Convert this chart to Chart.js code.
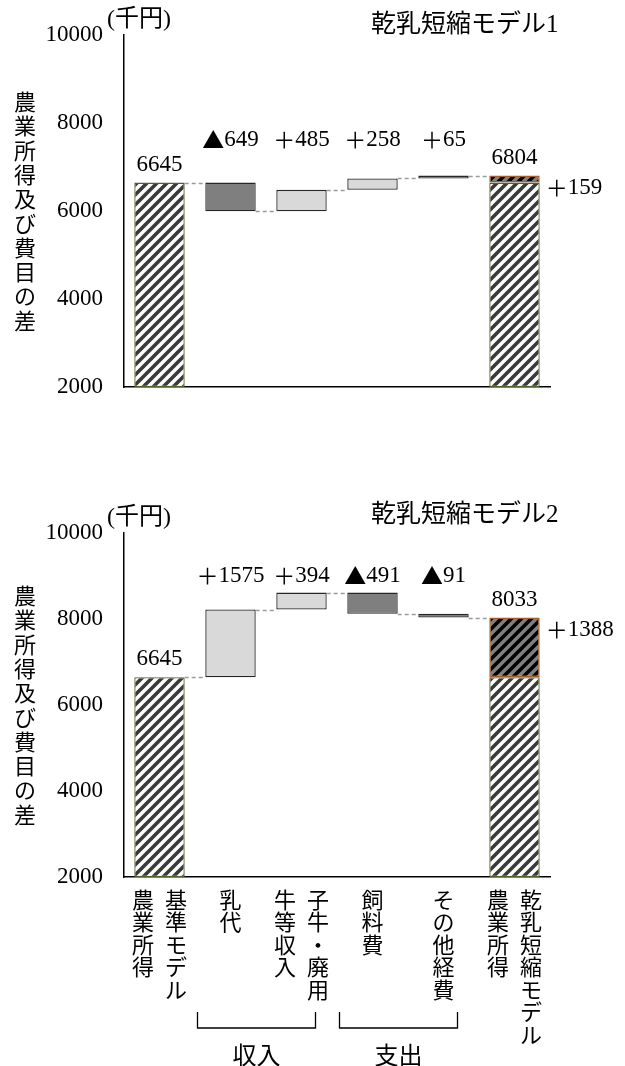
<!DOCTYPE html>
<html lang="ja">
<head>
  <meta charset="UTF-8" />
  <title>乾乳短縮モデルの農業所得</title>
  <style>
    body { margin: 0; background: #fff; width: 625px; height: 1066px; overflow: hidden; }
    .box { position: absolute; left: 0; width: 625px; }
    #box1 { top: 0; height: 490px; }
    #box2 { top: 490px; height: 576px; }
  </style>
  <script src="https://cdn.jsdelivr.net/npm/chart.js"></script>
</head>
<body>
  <div class="box" id="box1"><canvas id="chart1"></canvas></div>
  <div class="box" id="box2"><canvas id="chart2"></canvas></div>

  <script>
    // 項目（縦書き・1行目が右の列）
    const categories = [
      ['基準モデル', '農業所得'],
      ['乳代'],
      ['子牛・廃用', '牛等収入'],
      ['飼料費'],
      ['その他経費'],
      ['乾乳短縮モデル', '農業所得']
    ];
    const groupLabels = ['収入', '支出'];
    const groupSpans = [[1, 2], [3, 4]];
    const yTicks = [2000, 4000, 6000, 8000, 10000];
    const yTitle = '農業所得及び費目の差';
    const unitLabel = '(千円)';

    const baseIncome = 6645;
    const model1Diffs = [-649, 485, 258, 65];
    const model1Total = 6804;
    const model2Diffs = [1575, 394, -491, -91];
    const model2Total = 8033;

    const FONT = '"Liberation Serif", "Noto Sans CJK JP", serif';
    const FONT_JP = '"Noto Sans CJK JP", sans-serif';

    function stripes(bg, fg) {
      const c = document.createElement('canvas');
      c.width = c.height = 10;
      const g = c.getContext('2d');
      if (bg) { g.fillStyle = bg; g.fillRect(0, 0, 10, 10); }
      g.strokeStyle = fg;
      g.lineWidth = 3.6;
      g.beginPath();
      g.moveTo(-5, 5); g.lineTo(5, -5);
      g.moveTo(0, 10); g.lineTo(10, 0);
      g.moveTo(5, 15); g.lineTo(15, 5);
      g.stroke();
      return g.createPattern(c, 'repeat');
    }
    const hatchBase = stripes('#ffffff', '#3a3a3a');
    const hatchDiff = stripes('#808080', '#000000');

    // 記号（▲・＋）は全角で、数字は明朝系で
    function signedText(ctx, d, x, y, align) {
      const sign = d < 0 ? '▲' : '＋';
      const num = String(Math.abs(d));
      ctx.font = '22px ' + FONT_JP;
      const ws = ctx.measureText(sign).width;
      ctx.font = '23px ' + FONT;
      const wn = ctx.measureText(num).width;
      const left = align === 'left' ? x : x - (ws + wn) / 2;
      ctx.textAlign = 'left';
      ctx.font = '22px ' + FONT_JP;
      ctx.fillText(sign, left, y);
      ctx.font = '23px ' + FONT;
      ctx.fillText(num, left + ws, y);
    }

    function verticalText(ctx, text, cx, top, pitch) {
      [...text].forEach((ch, k) => ctx.fillText(ch, cx, top + pitch * (k + 0.5)));
    }

    const overlay = {
      id: 'overlay',
      afterDatasetsDraw(chart, args, o) {
        const ctx = chart.ctx, area = chart.chartArea;
        const x = chart.scales.x, y = chart.scales.y;
        const bars = chart.getDatasetMeta(0).data;
        const last = bars.length - 1;
        const seg = chart.getDatasetMeta(1).data[last];
        ctx.save();

        // 破線の接続線
        ctx.strokeStyle = '#9a9a9a';
        ctx.lineWidth = 1.3;
        ctx.setLineDash([4, 3]);
        o.levels.forEach((lv, i) => {
          const a = bars[i], b = bars[i + 1];
          const py = Math.round(y.getPixelForValue(lv)) + 0.5;
          ctx.beginPath();
          ctx.moveTo(a.x + a.width / 2, py);
          ctx.lineTo(b.x - b.width / 2, py);
          ctx.stroke();
        });
        ctx.setLineDash([]);

        // 値ラベル
        ctx.fillStyle = '#000';
        ctx.font = '23px ' + FONT;
        ctx.textAlign = 'center';
        ctx.textBaseline = 'middle';
        ctx.fillText(String(baseIncome), bars[0].x, y.getPixelForValue(baseIncome) - 18);
        ctx.fillText(String(o.total), bars[last].x, y.getPixelForValue(o.total) - 18);
        const rowY = Math.min(...o.diffs.map((d, i) => bars[i + 1].y)) - o.rowGap;
        o.diffs.forEach((d, i) => signedText(ctx, d, bars[i + 1].x, rowY, 'center'));
        signedText(ctx, o.total - baseIncome, seg.x + seg.width / 2 + 6, y.getPixelForValue(o.total) + 12, 'left');

        // タイトルと単位
        ctx.font = '25px ' + FONT;
        ctx.textAlign = 'center';
        ctx.fillText(o.title, area.left + (area.right - area.left) * 0.8, 25);
        ctx.font = '24px ' + FONT;
        ctx.textAlign = 'left';
        ctx.fillText(unitLabel, area.left - 17, area.top - 15);

        // 縦軸タイトル（縦書き）
        ctx.font = '22px ' + FONT_JP;
        ctx.textAlign = 'center';
        const pitch = 24.3;
        const mid = (area.top + area.bottom) / 2;
        verticalText(ctx, yTitle, 25, mid - pitch * [...yTitle].length / 2, pitch);

        // 項目ラベルと括弧
        if (o.xLabels) {
          ctx.font = '22px ' + FONT_JP;
          categories.forEach((lines, i) => {
            const cx = x.getPixelForValue(i);
            lines.forEach((t, j) => {
              verticalText(ctx, t, cx + (lines.length - 1) * 16.5 - j * 33, area.bottom + 11, 22.5);
            });
          });
          ctx.strokeStyle = '#000';
          ctx.lineWidth = 1.3;
          ctx.font = '24px ' + FONT_JP;
          groupSpans.forEach(([from, to], k) => {
            const l = x.getPixelForValue(from) - 33;
            const r = x.getPixelForValue(to) + 14;
            const t = area.bottom + 135, b = area.bottom + 151;
            ctx.beginPath();
            ctx.moveTo(l, t); ctx.lineTo(l, b); ctx.lineTo(r, b); ctx.lineTo(r, t);
            ctx.stroke();
            ctx.fillText(groupLabels[k], (l + r) / 2, area.bottom + 178);
          });
        }
        ctx.restore();
      }
    };

    function makeChart(id, diffs, total, title, padTop, padBottom, rowGap, xLabels) {
      const ranges = [[yTicks[0], baseIncome]];
      const levels = [baseIncome];
      let level = baseIncome;
      diffs.forEach(d => {
        ranges.push([level, level + d]);
        level += d;
        levels.push(level);
      });
      ranges.push([yTicks[0], baseIncome]);
      levels.length = diffs.length + 1;
      const lastIdx = categories.length - 1;

      const fills = ranges.map((r, i) => (i === 0 || i === lastIdx) ? hatchBase : (r[1] < r[0] ? '#7f7f7f' : '#d9d9d9'));
      const borders = ranges.map((r, i) => (i === 0 || i === lastIdx) ? '#4f6228' : '#262626');
      const segData = categories.map((c, i) => i === lastIdx ? [baseIncome, total] : null);

      return new Chart(document.getElementById(id), {
        type: 'bar',
        data: {
          labels: categories.map(c => c.join('')),
          datasets: [{
            data: ranges,
            backgroundColor: fills,
            borderColor: borders,
            borderWidth: 1.3,
            borderSkipped: false,
            grouped: false,
            barPercentage: 0.71,
            categoryPercentage: 1
          }, {
            data: segData,
            backgroundColor: hatchDiff,
            borderColor: '#a65a24',
            borderWidth: 1.5,
            borderSkipped: false,
            grouped: false,
            barPercentage: 0.71,
            categoryPercentage: 1
          }]
        },
        options: {
          responsive: true,
          maintainAspectRatio: false,
          animation: false,
          layout: { padding: { top: padTop, bottom: padBottom, left: 0, right: 75 } },
          plugins: {
            legend: { display: false },
            tooltip: { enabled: false },
            overlay: { levels, diffs, total, title, rowGap, xLabels }
          },
          scales: {
            x: {
              grid: { display: false, drawTicks: false },
              border: { color: '#000', width: 1.5 },
              ticks: { display: false },
              afterFit: s => { s.height = 0; }
            },
            y: {
              min: yTicks[0],
              max: yTicks[yTicks.length - 1],
              afterBuildTicks: s => { s.ticks = yTicks.map(v => ({ value: v })); },
              grid: { display: false, drawTicks: false },
              border: { color: '#000', width: 1.5 },
              ticks: {
                color: '#000',
                padding: 21,
                font: { family: FONT, size: 23 },
                callback: v => String(v)
              },
              afterFit: s => { s.width = 124; }
            }
          }
        },
        plugins: [overlay]
      });
    }

    makeChart('chart1', model1Diffs, model1Total, '乾乳短縮モデル1', 35, 103, 36, false);
    makeChart('chart2', model2Diffs, model2Total, '乾乳短縮モデル2', 43, 189, 17, true);
  </script>
</body>
</html>
